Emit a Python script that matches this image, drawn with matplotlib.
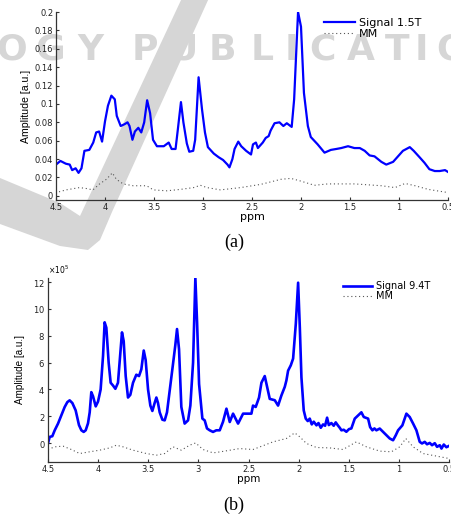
import matplotlib
matplotlib.use("Agg")
import matplotlib.pyplot as plt
from matplotlib.patches import Polygon
from matplotlib.ticker import FuncFormatter, ScalarFormatter

# ---- panel (a): 1.5T spectrum ----
ppm_15 = [4.50, 4.455, 4.40, 4.36, 4.335, 4.30, 4.27, 4.24, 4.21, 4.16, 4.12, 4.09, 4.06, 4.03,
          4.00, 3.97, 3.935, 3.90, 3.88, 3.84, 3.80, 3.77, 3.75, 3.72, 3.695, 3.66, 3.63, 3.60,
          3.57, 3.54, 3.51, 3.47, 3.40, 3.35, 3.32, 3.28, 3.257, 3.225, 3.20, 3.165, 3.14, 3.10,
          3.08, 3.045, 3.01, 2.98, 2.95, 2.89, 2.84, 2.795, 2.75, 2.73, 2.70, 2.678, 2.64, 2.61,
          2.56, 2.51, 2.49, 2.46, 2.44, 2.39, 2.36, 2.33, 2.31, 2.27, 2.22, 2.18, 2.145, 2.095,
          2.07, 2.04, 2.03, 2.0, 1.97, 1.93, 1.90, 1.83, 1.76, 1.695, 1.64, 1.59, 1.52, 1.455,
          1.40, 1.35, 1.30, 1.25, 1.18, 1.13, 1.06, 1.01, 0.96, 0.89, 0.85, 0.79, 0.74, 0.69,
          0.635, 0.585, 0.53, 0.50]
signal_15 = [0.034, 0.038, 0.035, 0.034, 0.028, 0.030, 0.025, 0.030, 0.049, 0.050, 0.058, 0.069,
             0.070, 0.059, 0.081, 0.098, 0.109, 0.105, 0.087, 0.076, 0.078, 0.080, 0.076, 0.061,
             0.070, 0.074, 0.069, 0.080, 0.104, 0.090, 0.061, 0.054, 0.054, 0.058, 0.051, 0.051,
             0.072, 0.102, 0.080, 0.057, 0.048, 0.049, 0.061, 0.129, 0.094, 0.069, 0.053, 0.046,
             0.042, 0.039, 0.034, 0.031, 0.040, 0.051, 0.059, 0.054, 0.049, 0.045, 0.056, 0.058,
             0.052, 0.058, 0.063, 0.065, 0.071, 0.079, 0.080, 0.076, 0.079, 0.075, 0.105, 0.177,
             0.200, 0.184, 0.112, 0.076, 0.064, 0.056, 0.047, 0.050, 0.051, 0.052, 0.054, 0.052,
             0.052, 0.049, 0.044, 0.043, 0.037, 0.034, 0.037, 0.043, 0.049, 0.053, 0.049, 0.042,
             0.036, 0.029, 0.027, 0.027, 0.028, 0.026]
mm_ppm_15 = [4.50, 4.483, 4.397, 4.26, 4.19, 4.123, 4.055, 3.986, 3.925, 3.884, 3.815, 3.712, 3.575,
             3.507, 3.37, 3.233, 3.096, 3.027, 2.959, 2.822, 2.616, 2.41, 2.205, 2.103, 2.0,
             1.863, 1.726, 1.452, 1.178, 1.041, 0.938, 0.836, 0.70, 0.50]
mm_15 = [0.002, 0.004, 0.0065, 0.009, 0.008, 0.0065, 0.013, 0.018, 0.025, 0.018, 0.013, 0.011,
         0.011, 0.0065, 0.0055, 0.007, 0.009, 0.0115, 0.009, 0.0065, 0.009, 0.0125, 0.018, 0.019,
         0.016, 0.0115, 0.013, 0.013, 0.011, 0.009, 0.0135, 0.011, 0.007, 0.0036]

# ---- panel (b): 9.4T spectrum (amplitudes in units of 1e5) ----
ppm_94 = [4.50, 4.483, 4.457, 4.433, 4.40, 4.367, 4.334, 4.307, 4.284, 4.257, 4.224, 4.191, 4.167,
          4.144, 4.124, 4.101, 4.084, 4.068, 4.051, 4.024, 4.001, 3.975, 3.951, 3.935, 3.918,
          3.895, 3.875, 3.852, 3.828, 3.802, 3.778, 3.762, 3.745, 3.725, 3.702, 3.679, 3.652,
          3.619, 3.592, 3.569, 3.545, 3.526, 3.502, 3.479, 3.459, 3.436, 3.419, 3.403, 3.386,
          3.359, 3.336, 3.313, 3.286, 3.253, 3.230, 3.213, 3.193, 3.170, 3.137, 3.103, 3.080,
          3.053, 3.030, 3.013, 2.993, 2.960, 2.937, 2.914, 2.887, 2.854, 2.821, 2.787, 2.754,
          2.720, 2.687, 2.654, 2.621, 2.604, 2.554, 2.504, 2.471, 2.455, 2.428, 2.395, 2.371,
          2.338, 2.315, 2.288, 2.238, 2.205, 2.172, 2.138, 2.122, 2.105, 2.078, 2.055, 2.028,
          2.005, 1.988, 1.972, 1.949, 1.929, 1.909, 1.889, 1.869, 1.849, 1.822, 1.802, 1.779,
          1.756, 1.736, 1.716, 1.699, 1.673, 1.650, 1.630, 1.606, 1.590, 1.573, 1.550, 1.524,
          1.497, 1.474, 1.440, 1.407, 1.374, 1.350, 1.307, 1.287, 1.264, 1.244, 1.224, 1.191,
          1.157, 1.124, 1.091, 1.058, 1.031, 1.008, 0.965, 0.925, 0.892, 0.858, 0.825, 0.792,
          0.769, 0.742, 0.719, 0.692, 0.669, 0.642, 0.619, 0.592, 0.575, 0.552, 0.526, 0.50]
signal_94 = [0.0, 0.47, 0.52, 0.96, 1.46, 2.07, 2.69, 3.06, 3.19, 2.99, 2.44, 1.35, 0.96, 0.84,
             0.96, 1.48, 2.3, 3.8, 3.5, 2.74, 3.1, 4.0, 6.5, 9.0, 8.6, 6.0, 4.5, 4.3, 4.05, 4.5,
             6.7, 8.25, 7.6, 5.0, 3.4, 3.6, 4.5, 5.1, 5.0, 5.5, 6.9, 6.2, 4.0, 2.8, 2.4, 3.0, 3.4,
             3.0, 2.3, 1.75, 1.7, 2.3, 3.9, 5.9, 7.3, 8.5, 7.0, 2.7, 1.46, 1.7, 2.8, 6.0, 12.3,
             9.0, 4.4, 1.83, 1.7, 1.1, 0.96, 0.84, 0.96, 0.96, 1.6, 2.57, 1.58, 2.2, 1.7, 1.46,
             2.2, 2.2, 2.2, 2.8, 2.7, 3.4, 4.5, 5.0, 4.2, 3.3, 3.2, 2.8, 3.55, 4.2, 4.67, 5.4,
             5.8, 6.3, 8.9, 11.95, 8.6, 4.9, 2.44, 1.83, 1.65, 1.83, 1.4, 1.6, 1.33, 1.5, 1.15,
             1.4, 1.3, 1.9, 1.35, 1.5, 1.3, 1.55, 1.3, 1.15, 0.96, 1.0, 0.85, 1.05, 1.1, 1.83,
             2.07, 2.3, 1.95, 1.83, 1.2, 0.96, 1.1, 0.96, 1.09, 0.84, 0.59, 0.35, 0.22, 0.59,
             0.96, 1.33, 2.2, 1.95, 1.46, 0.96, 0.1, -0.02, 0.1, -0.08, 0.02, -0.15, 0.0, -0.27,
             -0.15, -0.4, -0.1, -0.3, -0.2]
mm_ppm_94 = [4.50, 4.433, 4.35, 4.267, 4.184, 4.084, 3.985, 3.885, 3.818, 3.752, 3.652, 3.519,
             3.419, 3.336, 3.253, 3.17, 3.087, 3.027, 2.954, 2.854, 2.787, 2.588, 2.455, 2.255,
             2.122, 2.039, 1.988, 1.922, 1.822, 1.69, 1.557, 1.424, 1.324, 1.191, 1.075, 0.991,
             0.931, 0.858, 0.759, 0.625, 0.50]
mm_94 = [-0.47, -0.27, -0.22, -0.47, -0.77, -0.64, -0.52, -0.35, -0.15, -0.27, -0.52, -0.77,
         -0.89, -0.77, -0.27, -0.52, -0.15, 0.02, -0.47, -0.72, -0.65, -0.4, -0.47, 0.1, 0.35,
         0.77, 0.47, -0.02, -0.32, -0.35, -0.47, 0.1, -0.27, -0.59, -0.64, -0.27, 0.35, -0.27,
         -0.77, -0.96, -1.14]

ppm_ticks = [4.5, 4, 3.5, 3, 2.5, 2, 1.5, 1, 0.5]
yticks_a = [0, 0.02, 0.04, 0.06, 0.08, 0.1, 0.12, 0.14, 0.16, 0.18, 0.2]
yticks_b = [0, 2, 4, 6, 8, 10, 12]
scale_b = 1e5

W, H = 451, 520
fig = plt.figure(figsize=(W / 100, H / 100), dpi=100)


def fx(px):
    return px / W


def fy(py):
    return 1 - py / H


# watermark behind everything
wm_gray = '#d6d6d6'
swoosh = [(0, 178), (60, 203), (80, 216), (182, -2), (209, -2), (112, 212),
          (100, 240), (88, 250), (60, 246), (0, 224)]
fig.patches.append(Polygon([(fx(x), fy(y)) for x, y in swoosh], closed=True,
                           transform=fig.transFigure, facecolor=wm_gray,
                           edgecolor='none', zorder=-2))
wm_letters = "OGYPUBLICATIONS"
wm_centers = [12, 50, 90, 145, 183, 222, 262, 291, 322, 361, 397, 421, 452, 492, 527]
for ch, cx in zip(wm_letters, wm_centers):
    fig.text(fx(cx), fy(50), ch, ha='center', va='center', fontsize=26,
             fontweight='bold', family='DejaVu Sans', color=wm_gray, zorder=-1)

axis_col = '#333333'


def style_axes(ax, tick_fs):
    ax.set_facecolor('none')
    for s in ['top', 'right']:
        ax.spines[s].set_visible(False)
    for s in ['left', 'bottom']:
        ax.spines[s].set_color(axis_col)
        ax.spines[s].set_linewidth(0.9)
    ax.tick_params(direction='in', length=2.5, width=0.8, color=axis_col,
                   labelsize=tick_fs, pad=2, top=False, right=False)
    for lab in ax.get_xticklabels() + ax.get_yticklabels():
        lab.set_family('DejaVu Sans')
        lab.set_color('#222222')
    ax.set_xlim(4.5, 0.5)
    ax.set_xticks(ppm_ticks)
    ax.xaxis.set_major_formatter(FuncFormatter(lambda v, p: f'{v:g}'))


# ---- (a) ----
ax1 = fig.add_axes([fx(56), fy(200), fx(448) - fx(56), fy(12) - fy(200)])
ax1.plot(ppm_15, signal_15, color='#0000ff', lw=1.6, label='Signal 1.5T')
ax1.plot(mm_ppm_15, mm_15, color='#555555', lw=0.8, ls=(0, (1, 2.5)), label='MM')
ax1.set_ylim(-0.0045, 0.2)
ax1.set_yticks(yticks_a)
ax1.yaxis.set_major_formatter(FuncFormatter(lambda v, p: f'{round(v, 3):g}'))
style_axes(ax1, 6)
ax1.set_ylabel('Amplitude [a.u.]', family='Liberation Sans', fontsize=7.6, labelpad=3)
ax1.set_xlabel('ppm', family='DejaVu Sans', fontsize=8, labelpad=0)
ax1.legend(loc='upper left', bbox_to_anchor=(fx(324), fy(18)),
           bbox_transform=fig.transFigure, frameon=False, borderpad=0,
           borderaxespad=0, handlelength=2.8, handletextpad=0.35, labelspacing=0.1,
           prop={'family': 'DejaVu Sans', 'size': 8})

# ---- (b) ----
ax2 = fig.add_axes([fx(48), fy(462), fx(449) - fx(48), fy(278) - fy(462)])
ax2.plot(ppm_94, [v * scale_b for v in signal_94], color='#0000ff', lw=1.9,
         label='Signal 9.4T')
ax2.plot(mm_ppm_94, [v * scale_b for v in mm_94], color='#555555', lw=0.8,
         ls=(0, (1, 2.5)), label='MM')
ax2.set_ylim(-1.4 * scale_b, 12.3 * scale_b)
ax2.set_yticks([v * scale_b for v in yticks_b])
fmt = ScalarFormatter(useMathText=True)
fmt.set_powerlimits((5, 5))
ax2.yaxis.set_major_formatter(fmt)
style_axes(ax2, 6)
ax2.yaxis.get_offset_text().set_fontsize(5.5)
ax2.yaxis.get_offset_text().set_family('DejaVu Sans')
ax2.set_ylabel('Amplitude [a.u.]', family='Liberation Sans', fontsize=7.1, labelpad=6)
ax2.set_xlabel('ppm', family='DejaVu Sans', fontsize=7.5, labelpad=0)
ax2.legend(loc='upper left', bbox_to_anchor=(fx(343), fy(281)),
           bbox_transform=fig.transFigure, frameon=False, borderpad=0,
           borderaxespad=0, handlelength=3.0, handletextpad=0.35, labelspacing=0.05,
           prop={'family': 'DejaVu Sans', 'size': 7})

# panel captions
fig.text(fx(234), fy(242), '(a)', ha='center', va='center', family='Liberation Serif',
         fontsize=13)
fig.text(fx(234), fy(505), '(b)', ha='center', va='center', family='Liberation Serif',
         fontsize=13)

fig.savefig('out.png', dpi=100)
